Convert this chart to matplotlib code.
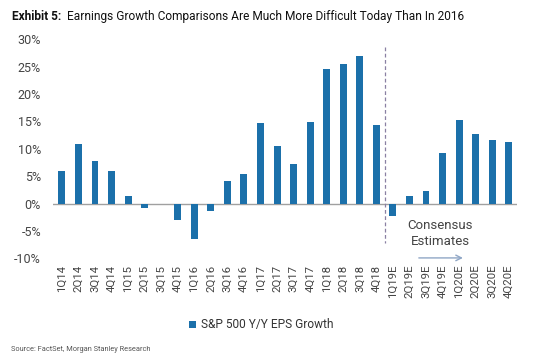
import matplotlib
matplotlib.use("Agg")
import matplotlib.pyplot as plt
import numpy as np

plt.rcParams['font.family'] = ['Roboto', 'DejaVu Sans']

# quarters and y/y eps growth (%)
quarters = ["1Q14", "2Q14", "3Q14", "4Q14", "1Q15", "2Q15", "3Q15", "4Q15",
            "1Q16", "2Q16", "3Q16", "4Q16", "1Q17", "2Q17", "3Q17", "4Q17",
            "1Q18", "2Q18", "3Q18", "4Q18", "1Q19E", "2Q19E", "3Q19E", "4Q19E",
            "1Q20E", "2Q20E", "3Q20E", "4Q20E"]
eps_growth = [6.0, 10.8, 7.7, 6.0, 1.4, -0.7, 0.0, -3.0,
              -6.5, -1.3, 4.1, 5.4, 14.7, 10.6, 7.3, 14.9,
              24.5, 25.5, 26.9, 14.3, -2.2, 1.4, 2.3, 9.3,
              15.3, 12.7, 11.6, 11.2]
y_ticks = [-10, -5, 0, 5, 10, 15, 20, 25, 30]

bar_color = "#1b70aa"
x = np.arange(len(quarters))

fig = plt.figure(figsize=(5.5, 3.57), dpi=100)
ax = fig.add_axes([0.096, 0.276, 0.844, 0.614])

ax.bar(x, eps_growth, width=0.42, color=bar_color, label="S&P 500 Y/Y EPS Growth", zorder=2)
ax.axhline(0, color="#a0a0a0", lw=1, zorder=1)

# forecast divider
ax.plot([19.5, 19.5], [28.6, -7.2], ls=(0, (3, 2)), color="#8a80a3", lw=0.9)
ax.text(22.85, -5.5, "Consensus\nEstimates", ha="center", va="center",
        fontsize=9.5, color="#444444", linespacing=1.3)
ax.annotate("", xy=(24.4, -9.9), xytext=(21.4, -9.9),
            arrowprops=dict(arrowstyle="->", color="#8fa6c6", lw=1), annotation_clip=False)

ax.set_xlim(-0.55, 27.5)
ax.set_ylim(-10, 30)
ax.set_yticks(y_ticks)
ax.set_yticklabels([f"{v}%" for v in y_ticks])
ax.set_xticks(x)
ax.set_xticklabels(quarters, rotation=90)
ax.tick_params(axis="y", length=0, pad=8.5, labelsize=9, labelcolor="#444444")
ax.tick_params(axis="x", length=0, pad=4.5, labelsize=8.2, labelcolor="#444444")
for s in ax.spines.values():
    s.set_visible(False)

fig.legend(loc="center", bbox_to_anchor=(0.475, 0.09), frameon=False,
           fontsize=8.6, handlelength=0.55, handleheight=0.55, handletextpad=0.4,
           labelcolor="#333333")

# title in two parts: bold label then regular text
fig.canvas.draw()
t1 = fig.text(0.022, 0.955, "Exhibit 5:", fontsize=8.6, fontweight="bold",
              va="center", color="#111111")
bb = t1.get_window_extent(fig.canvas.get_renderer())
fig.text(bb.x1 / fig.bbox.width + 0.01, 0.955,
         "Earnings Growth Comparisons Are Much More Difficult Today Than In 2016",
         fontsize=8.6, va="center", color="#111111")

fig.text(0.02, 0.022, "Source: FactSet, Morgan Stanley Research", fontsize=5.3,
         color="#555555", va="center")

fig.savefig("out.png", dpi=100)
